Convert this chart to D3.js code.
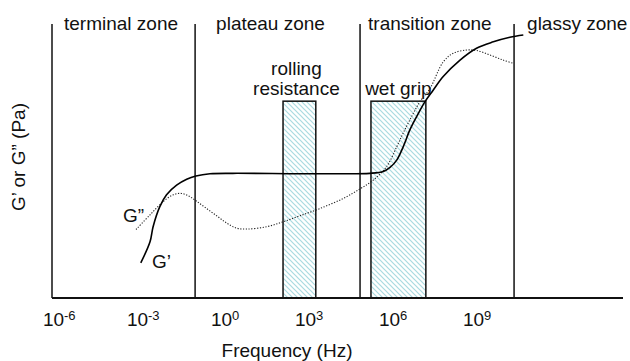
<!DOCTYPE html>
<html>
<head>
<meta charset="utf-8">
<script src="https://cdn.jsdelivr.net/npm/d3@7"></script>
<style>
  body { margin: 0; background: #fff; }
  text { font-family: "Liberation Sans", Arial, sans-serif; fill: #111; }
</style>
</head>
<body>
<script>
// log10 of frequency (Hz) for the tick labels
var tickExps = [-6, -3, 0, 3, 6, 9];

// zones and where they start (log10 Hz)
var zoneNames = ["terminal zone", "plateau zone", "transition zone", "glassy zone"];
var zoneStarts = [-6.21, -1.1, 4.79, 10.29];

// shaded bands: [from, to] in log10 Hz, top in log10 Pa (arbitrary)
var bandNames = [["rolling", "resistance"], ["wet grip"]];
var bandRanges = [[2.04, 3.21], [5.18, 7.14]];
var bandTop = 8.31;

// G' (storage) : [log10 f, log10 G]
var gPrime = [
  [-3.04, 4.77], [-2.71, 5.23], [-2.60, 5.56], [-2.36, 6.0], [-2.12, 6.26],
  [-1.76, 6.47], [-1.40, 6.60], [-1.07, 6.67], [-0.57, 6.72], [0.25, 6.73],
  [2.64, 6.72], [4.07, 6.72], [5.14, 6.73], [5.62, 6.77], [5.86, 6.86],
  [6.10, 7.02], [6.33, 7.31], [6.57, 7.68], [6.81, 7.97], [7.11, 8.30],
  [7.40, 8.55], [7.76, 8.85], [8.36, 9.21], [8.95, 9.47], [9.55, 9.61],
  [10.14, 9.71], [10.62, 9.76]
];

// G'' (loss)
var gDouble = [
  [-3.21, 5.50], [-2.71, 5.82], [-2.24, 6.11], [-1.88, 6.26], [-1.58, 6.29],
  [-1.29, 6.22], [-1.05, 6.12], [-0.69, 5.96], [-0.33, 5.80], [0.03, 5.64],
  [0.38, 5.53], [0.74, 5.51], [1.45, 5.56], [2.05, 5.67], [2.64, 5.80],
  [3.36, 5.96], [4.19, 6.18], [4.79, 6.39], [5.26, 6.58], [5.74, 6.88],
  [6.10, 7.31], [6.33, 7.61], [6.63, 7.97], [6.93, 8.30], [7.29, 8.59],
  [7.76, 9.17], [8.12, 9.36], [8.60, 9.43], [8.95, 9.42], [9.43, 9.32],
  [9.90, 9.21], [10.26, 9.14]
];

var width = 630, height = 361;

var svg = d3.select("body")
    .append("svg")
    .attr("width", width)
    .attr("height", height);

var x = d3.scaleLinear()
    .domain([-6.21, 14.18])
    .range([52, 623]);

var y = d3.scaleLinear()
    .domain([4, 10])
    .range([298, 24]);

// hatch pattern for the bands
var defs = svg.append("defs");
var pat = defs.append("pattern")
    .attr("id", "hatch")
    .attr("patternUnits", "userSpaceOnUse")
    .attr("width", 5)
    .attr("height", 5);
pat.append("rect").attr("width", 5).attr("height", 5).attr("fill", "#fff");
pat.append("path")
    .attr("d", "M-1,-1 L6,6 M-1,4 L1,6 M4,-1 L6,1")
    .attr("stroke", "#a9dae0")
    .attr("stroke-width", 1.2);

// bands
svg.selectAll(".band")
    .data(bandRanges)
    .enter()
    .append("rect")
    .attr("class", "band")
    .attr("x", function(d){ return x(d[0]); })
    .attr("y", y(bandTop))
    .attr("width", function(d){ return x(d[1]) - x(d[0]); })
    .attr("height", y(4) - y(bandTop))
    .attr("fill", "url(#hatch)")
    .attr("stroke", "#111")
    .attr("stroke-width", 1.5);

// band labels
bandNames.forEach(function(lines, i){
    var cx = (x(bandRanges[i][0]) + x(bandRanges[i][1])) / 2;
    var t = svg.append("text")
        .attr("text-anchor", "middle")
        .attr("font-size", 19);
    lines.forEach(function(s, j){
        t.append("tspan")
            .attr("x", cx - (lines.length > 1 ? 3 : 0))
            .attr("y", y(bandTop) - 6 - (lines.length - 1 - j) * 20)
            .text(s);
    });
});

// zone divider lines (first one is the y axis)
svg.selectAll(".zone")
    .data(zoneStarts)
    .enter()
    .append("line")
    .attr("class", "zone")
    .attr("x1", function(d){ return x(d); })
    .attr("x2", function(d){ return x(d); })
    .attr("y1", y(10))
    .attr("y2", y(4))
    .attr("stroke", "#111")
    .attr("stroke-width", 1.5);

var zonePad = [12, 21, 8, 13];
svg.selectAll(".zoneLabel")
    .data(zoneNames)
    .enter()
    .append("text")
    .attr("class", "zoneLabel")
    .attr("x", function(d, i){ return x(zoneStarts[i]) + zonePad[i]; })
    .attr("y", 30)
    .attr("font-size", 19)
    .text(function(d){ return d; });

// x axis line
svg.append("line")
    .attr("x1", x(-6.21))
    .attr("x2", x(14.18))
    .attr("y1", y(4))
    .attr("y2", y(4))
    .attr("stroke", "#111")
    .attr("stroke-width", 2);

// tick labels 10^n
var ticks = svg.selectAll(".tick")
    .data(tickExps)
    .enter()
    .append("text")
    .attr("class", "tick")
    .attr("x", function(d){ return x(d) - 15; })
    .attr("y", 326)
    .attr("font-size", 19);
ticks.append("tspan").text("10");
ticks.append("tspan")
    .attr("font-size", 13)
    .attr("dy", -6)
    .text(function(d){ return d; });

// curves
var line = d3.line()
    .x(function(d){ return x(d[0]); })
    .y(function(d){ return y(d[1]); })
    .curve(d3.curveCatmullRom);

svg.append("path")
    .datum(gDouble)
    .attr("d", line)
    .attr("fill", "none")
    .attr("stroke", "#222")
    .attr("stroke-width", 1.1)
    .attr("stroke-dasharray", "1.2,1.6");

svg.append("path")
    .datum(gPrime)
    .attr("d", line)
    .attr("fill", "none")
    .attr("stroke", "#000")
    .attr("stroke-width", 1.6);

// curve labels
svg.append("text")
    .attr("x", 123)
    .attr("y", 222)
    .attr("font-size", 19)
    .text("G\u201D");
svg.append("text")
    .attr("x", 152)
    .attr("y", 268)
    .attr("font-size", 19)
    .text("G\u2019");

// axis titles
svg.append("text")
    .attr("x", 287)
    .attr("y", 357)
    .attr("text-anchor", "middle")
    .attr("font-size", 19)
    .text("Frequency (Hz)");

svg.append("text")
    .attr("transform", "translate(25,157) rotate(-90)")
    .attr("text-anchor", "middle")
    .attr("font-size", 19)
    .text("G\u2019 or G\u201D (Pa)");
</script>
</body>
</html>
